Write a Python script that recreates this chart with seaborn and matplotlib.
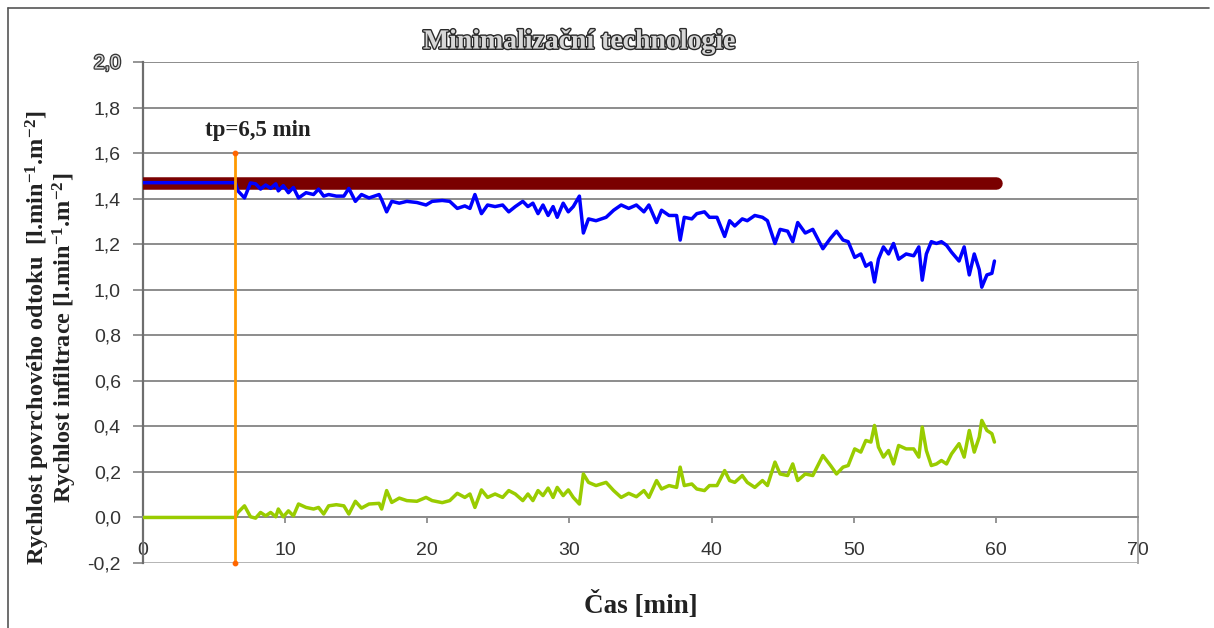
import numpy as np
import matplotlib
matplotlib.use("Agg")
import matplotlib.pyplot as plt
import matplotlib.patheffects as pe
from matplotlib.lines import Line2D
import seaborn as sns

# Time axis [min]
cas = [0, 6.50, 6.68, 7.14, 7.56, 7.92, 8.27, 8.63, 8.98, 9.34, 9.52, 9.87,
       10.23, 10.58, 10.94, 11.47, 12.00, 12.35, 12.71, 13.06, 13.60, 14.13,
       14.48, 14.94, 15.37, 15.90, 16.61, 16.79, 17.14, 17.50, 18.03, 18.56,
       19.27, 19.91, 20.34, 21.05, 21.58, 22.11, 22.64, 23.00, 23.35, 23.81,
       24.24, 24.77, 25.30, 25.73, 26.19, 26.72, 27.08, 27.43, 27.79, 28.14,
       28.50, 28.85, 29.14, 29.56, 29.92, 30.27, 30.70, 30.98, 31.34, 31.87,
       32.58, 33.11, 33.64, 34.17, 34.71, 35.24, 35.59, 36.13, 36.48, 37.01,
       37.54, 37.79, 38.08, 38.61, 38.96, 39.50, 39.85, 40.38, 40.92, 41.27,
       41.63, 42.16, 42.51, 43.04, 43.58, 43.93, 44.46, 44.82, 45.35, 45.71,
       46.06, 46.59, 47.12, 47.83, 48.37, 48.79, 49.25, 49.61, 50.07, 50.50,
       50.85, 51.21, 51.46, 51.74, 52.09, 52.45, 52.80, 53.16, 53.69, 54.22,
       54.58, 54.82, 55.11, 55.46, 55.82, 56.17, 56.53, 56.88, 57.41, 57.77,
       58.13, 58.48, 58.83, 59.01, 59.37, 59.72, 59.90]

# Infiltration rate [l.min-1.m-2]
infiltrace = [1.47, 1.47, 1.434, 1.403,
              1.469, 1.465, 1.442, 1.460, 1.445, 1.465, 1.434, 1.457, 1.426, 1.449,
              1.403, 1.426, 1.418, 1.442, 1.411, 1.418, 1.411, 1.411, 1.445, 1.388,
              1.418, 1.403, 1.418, 1.395, 1.342, 1.388, 1.380, 1.388, 1.383, 1.372,
              1.388, 1.392, 1.388, 1.357, 1.368, 1.357, 1.418, 1.334, 1.372, 1.365,
              1.372, 1.342, 1.365, 1.388, 1.365, 1.380, 1.334, 1.372, 1.326, 1.365,
              1.318, 1.380, 1.342, 1.365, 1.411, 1.249, 1.311, 1.303, 1.318, 1.349,
              1.372, 1.357, 1.372, 1.342, 1.372, 1.295, 1.349, 1.326, 1.326, 1.218,
              1.318, 1.311, 1.334, 1.342, 1.318, 1.318, 1.234, 1.303, 1.280, 1.311,
              1.303, 1.326, 1.318, 1.303, 1.203, 1.265, 1.257, 1.211, 1.295, 1.249,
              1.265, 1.180, 1.226, 1.257, 1.218, 1.211, 1.142, 1.157, 1.103, 1.118,
              1.034, 1.134, 1.188, 1.157, 1.203, 1.134, 1.157, 1.149, 1.188, 1.042,
              1.157, 1.211, 1.203, 1.211, 1.195, 1.165, 1.126, 1.188, 1.065, 1.157,
              1.088, 1.011, 1.065, 1.072, 1.126]

# Surface runoff rate [l.min-1.m-2]
odtok = [0.0, 0.0,
         0.022, 0.051, 0.003, -0.003, 0.022, 0.007, 0.022, 0.003, 0.037, 0.003,
         0.029, 0.007, 0.059, 0.044, 0.037, 0.044, 0.015, 0.051, 0.056, 0.051,
         0.015, 0.071, 0.041, 0.059, 0.062, 0.037, 0.118, 0.066, 0.085, 0.074,
         0.071, 0.088, 0.074, 0.065, 0.074, 0.106, 0.088, 0.103, 0.044, 0.121,
         0.088, 0.103, 0.088, 0.118, 0.103, 0.074, 0.103, 0.074, 0.118, 0.096,
         0.129, 0.088, 0.132, 0.096, 0.121, 0.088, 0.059, 0.191, 0.154, 0.140,
         0.154, 0.118, 0.088, 0.106, 0.091, 0.118, 0.088, 0.162, 0.125, 0.140,
         0.132, 0.221, 0.140, 0.147, 0.125, 0.118, 0.140, 0.140, 0.206, 0.162,
         0.154, 0.184, 0.154, 0.132, 0.162, 0.140, 0.243, 0.191, 0.184, 0.235,
         0.162, 0.191, 0.184, 0.272, 0.228, 0.191, 0.221, 0.228, 0.301, 0.287,
         0.338, 0.331, 0.404, 0.309, 0.265, 0.294, 0.235, 0.316, 0.301, 0.301,
         0.265, 0.397, 0.294, 0.228, 0.235, 0.250, 0.235, 0.279, 0.324, 0.265,
         0.382, 0.287, 0.353, 0.426, 0.382, 0.368, 0.331]

# Rainfall intensity (constant)
dest_cas = [0, 60]
dest = [1.47, 1.47]

# Ponding time marker
tp = 6.5
tp_y = [-0.2, 1.6]

x_ticks = [0, 10, 20, 30, 40, 50, 60, 70]
y_ticks = [-0.2, 0.0, 0.2, 0.4, 0.6, 0.8, 1.0, 1.2, 1.4, 1.6, 1.8, 2.0]
y_tick_labels = ["-0,2", "0,0", "0,2", "0,4", "0,6", "0,8", "1,0", "1,2",
                 "1,4", "1,6", "1,8", "2,0"]

sns.set_theme(style="white")
plt.rcParams["font.family"] = ["Liberation Sans", "DejaVu Sans"]
plt.rcParams["mathtext.fontset"] = "custom"
plt.rcParams["mathtext.rm"] = "Liberation Serif:bold"
plt.rcParams["mathtext.it"] = "Liberation Serif:bold"
plt.rcParams["mathtext.bf"] = "Liberation Serif:bold"
plt.rcParams["mathtext.default"] = "rm"
serif = ["Liberation Serif", "DejaVu Serif"]

fig = plt.figure(figsize=(12.14, 6.28), dpi=100)
fig.patch.set_facecolor("white")
ax = fig.add_axes([0.1178, 0.1035, 0.8196, 0.7978])
ax.set_facecolor("white")

grid_col = "#8c8c8c"
for yv in y_ticks:
    ax.axhline(yv, color=grid_col if yv != -0.2 else "#b4b4b4", lw=1.4, zorder=1)

sns.lineplot(x=dest_cas, y=dest, ax=ax, color="#7a0000", lw=9,
             solid_capstyle="round", estimator=None, sort=False, zorder=3)
sns.lineplot(x=cas, y=infiltrace, ax=ax, color="#0000ff", lw=2.5,
             estimator=None, sort=False, zorder=4)
sns.lineplot(x=cas, y=odtok, ax=ax, color="#99cc00", lw=2.5,
             estimator=None, sort=False, zorder=4)
sns.lineplot(x=[tp, tp], y=tp_y, ax=ax, color="#ff9900", lw=2.0,
             estimator=None, sort=False, zorder=5)
ax.scatter([tp, tp], tp_y, s=10, color="#ff6600", zorder=6, clip_on=False)

ax.set_xlim(0, 70)
ax.set_ylim(-0.2, 2.0)
ax.set_xticks(x_ticks)
ax.set_xticklabels([str(v) for v in x_ticks])
ax.set_yticks(y_ticks)
ax.set_yticklabels(y_tick_labels)
ax.set_xlabel("")
ax.set_ylabel("")

ax.spines["bottom"].set_position(("data", 0))
ax.spines["bottom"].set_color(grid_col)
ax.spines["bottom"].set_linewidth(1.4)
ax.spines["left"].set_color("#6e6e6e")
ax.spines["left"].set_linewidth(1.6)
ax.spines["right"].set_color("#a8a8a8")
ax.spines["right"].set_linewidth(1.4)
ax.spines["top"].set_visible(False)

ax.tick_params(axis="x", direction="out", length=4.5, width=1.3, color=grid_col,
               pad=13, labelsize=14, labelcolor="#333333", bottom=True)
ax.tick_params(axis="y", direction="out", length=7, width=1.3, color=grid_col,
               pad=9, labelsize=14, labelcolor="#333333", left=True)
top_label = ax.get_yticklabels()[-1]
top_label.set_color("#d8d8d8")
top_label.set_path_effects([pe.withStroke(linewidth=1.8, foreground="#333333")])

ax.text(4.35, 1.70, "tp=6,5 min", ha="left", va="center", fontsize=16.5,
        fontweight="bold", family=serif, color="#222222")

fig.text(0.477, 0.933, "Minimalizační technologie", ha="center", va="center",
         fontsize=20, fontweight="bold", family=serif, color="#d8d8d8",
         path_effects=[pe.withStroke(linewidth=2.0, foreground="#2a2a2a")])

fig.text(0.042, 0.462,
         "Rychlost povrchového odtoku  [l.min$^{-1}$.m$^{-2}$]\n"
         "Rychlost infiltrace [l.min$^{-1}$.m$^{-2}$]",
         rotation=90, ha="center", va="center", multialignment="center",
         fontsize=17.5, fontweight="bold", family=serif, color="#222222",
         linespacing=0.95)

fig.text(0.528, 0.037, "Čas [min]", ha="center", va="center", fontsize=19.5,
         fontweight="bold", family=serif, color="#222222")

# Outer frame of the chart area
fig.add_artist(Line2D([0.0066, 0.0066], [0.0, 0.987], transform=fig.transFigure,
                      color="#555555", lw=1.2))
fig.add_artist(Line2D([0.0066, 0.996], [0.987, 0.987], transform=fig.transFigure,
                      color="#555555", lw=1.2))

fig.savefig("out.png", dpi=100, facecolor="white")
